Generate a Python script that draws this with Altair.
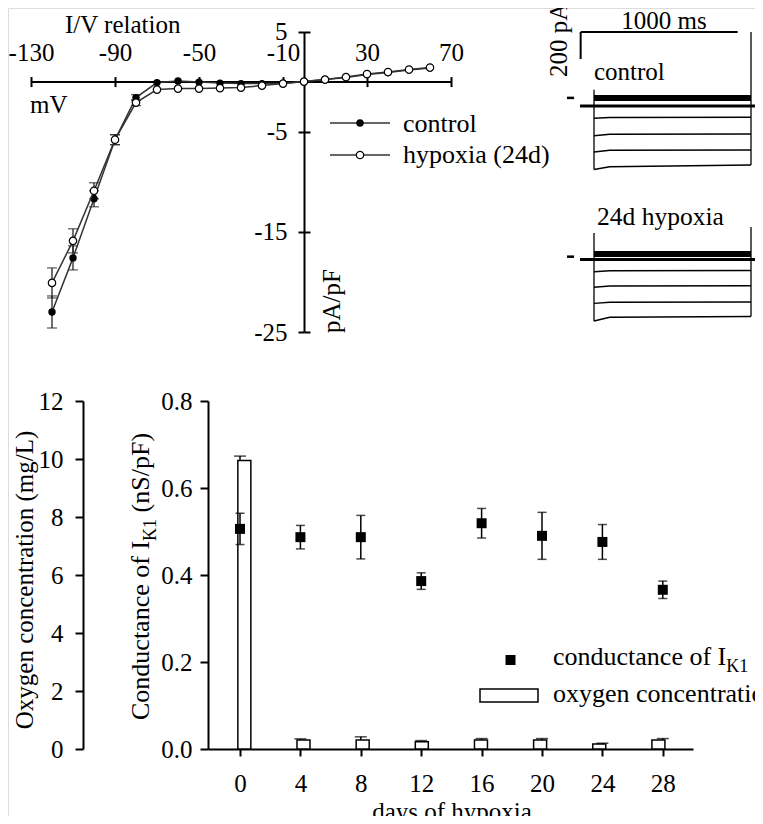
import altair as alt
import pandas as pd

FONT = "Liberation Serif"
W, H = 747, 808

# ---------------- Panel A: I/V relation ----------------
iv_mv = [-120, -110, -100, -90, -80, -70, -60, -50, -40, -30, -20, -10, 0, 10, 20, 30, 40, 50, 60]
iv_control = [-23.0, -17.6, -11.7, -5.8, -1.6, -0.1, 0.05, -0.05, -0.15, -0.2, -0.2, -0.2, 0.0, 0.2, 0.4, 0.7, 0.9, 1.15, 1.35]
iv_hypoxia = [-20.1, -15.9, -10.9, -5.8, -2.1, -0.8, -0.7, -0.7, -0.65, -0.6, -0.4, -0.2, 0.0, 0.2, 0.45, 0.75, 0.95, 1.2, 1.4]
iv_control_sem = [1.6, 1.2, 0.8, 0.5, 0.3, 0, 0, 0, 0, 0, 0, 0, 0, 0, 0, 0, 0, 0, 0]
iv_hypoxia_sem = [1.5, 1.2, 0.8, 0.5, 0.3, 0, 0, 0, 0, 0, 0, 0, 0, 0, 0, 0, 0, 0, 0]
iv_x_ticks = [-130, -90, -50, -10, 30, 70]
iv_y_ticks = [5, -5, -15, -25]

# ---------------- Panel B: current traces ----------------
trace_time_ms = [0, 100, 1000]
control_traces_pA = [[-90, -85, -84], [-220, -210, -208], [-340, -328, -326], [-470, -450, -437]]
hypoxia_traces_pA = [[-90, -83, -82], [-205, -197, -195], [-325, -317, -315], [-455, -428, -422]]
control_band_pA = 60
hypoxia_band_pA = 40
control_onset_peak_pA = 120
control_offset_peak_pA = 548
hypoxia_onset_peak_pA = 196
hypoxia_offset_peak_pA = 241
control_zero_mark_pA = 60
hypoxia_zero_mark_pA = 21
holding_span_ms = [-89, 1057]
zero_mark_span_ms = [-172, -127]
scalebar_time_ms = [-85, 915]
scalebar_current_pA = [348, 548]

# ---------------- Panel C: conductance & oxygen ----------------
days = [0, 4, 8, 12, 16, 20, 24, 28]
conductance = [0.506, 0.487, 0.487, 0.386, 0.519, 0.490, 0.476, 0.366]
conductance_sem = [0.036, 0.027, 0.05, 0.019, 0.034, 0.054, 0.04, 0.02]
oxygen = [9.95, 0.31, 0.31, 0.25, 0.31, 0.31, 0.17, 0.31]
oxygen_sem = [0.15, 0.04, 0.11, 0.04, 0.05, 0.05, 0.03, 0.05]
conductance_ticks = [0, 0.2, 0.4, 0.6, 0.8]
oxygen_ticks = [0, 2, 4, 6, 8, 10, 12]


def lin(domain, rng):
    return alt.Scale(domain=domain, range=rng, nice=False, zero=False)


IVX = lin([-130, 70], [23, 443])
IVY = lin([-25, 5], [324, 23.5])
IV_X0 = 23 + (0 - (-130)) / 200 * 420
IV_Y0 = 324 - (0 - (-25)) / 30 * (324 - 23.5)
TX = lin([0, 1000], [586, 743])
TYC = lin([-500, 500], [165.5, 30.5])
TYH = lin([-500, 500], [319, 184])
BX = lin([-2.12, 30], [200, 685])
BYG = lin([0, 0.8], [741, 393])
BYO = lin([0, 12], [741, 393])

AX = dict(labelFont=FONT, labelColor="black", domainColor="black", tickColor="black",
          grid=False, title=None, labelOverlap=False, labelFlush=False, labelAngle=0)

layers = []

# ---- IV panel ----
iv = pd.DataFrame({"mv": iv_mv, "ctrl": iv_control, "hyp": iv_hypoxia,
                   "cs": iv_control_sem, "hs": iv_hypoxia_sem})
err_rows = []
for _, r in iv.iterrows():
    if r.cs > 0:
        err_rows.append({"mv": r.mv, "lo": r.ctrl - r.cs, "hi": r.ctrl + r.cs})
    if r.hs > 0:
        err_rows.append({"mv": r.mv, "lo": r.hyp - r.hs, "hi": r.hyp + r.hs})
iv_err = pd.DataFrame(err_rows)

xn = alt.X("mv:Q", scale=IVX, axis=None)
layers.append(alt.Chart(iv_err).mark_rule(color="#222", strokeWidth=1.3).encode(
    x=xn, y=alt.Y("lo:Q", scale=IVY, axis=None), y2="hi:Q"))
for fld in ["lo", "hi"]:
    layers.append(alt.Chart(iv_err).mark_tick(orient="horizontal", size=10, thickness=1.3, color="#222").encode(
        x=xn, y=alt.Y(f"{fld}:Q", scale=IVY, axis=None)))

ax_top = alt.Axis(orient="top", offset=-IV_Y0, values=iv_x_ticks, labelExpr="toString(datum.value)",
                  tickSize=5, tickWidth=2, domainWidth=2, labelPadding=11, labelFontSize=25, **AX)
ax_left = alt.Axis(orient="left", offset=-IV_X0, values=iv_y_ticks, labelExpr="toString(datum.value)",
                   tickSize=6, tickWidth=2, domainWidth=2, labelPadding=11, labelFontSize=25, **AX)
ax_bot = alt.Axis(orient="bottom", offset=-(H - IV_Y0), values=iv_x_ticks, tickSize=5, tickWidth=2,
                  domain=False, labels=False, **AX)
ax_right = alt.Axis(orient="right", offset=-(W - IV_X0), values=iv_y_ticks, tickSize=6, tickWidth=2,
                    domain=False, labels=False, **AX)

layers.append(alt.Chart(iv).mark_line(color="#333", strokeWidth=1.5).encode(
    x=alt.X("mv:Q", scale=IVX, axis=ax_top), y=alt.Y("ctrl:Q", scale=IVY, axis=ax_left)))
layers.append(alt.Chart(iv).mark_circle(size=55, color="black", opacity=1).encode(
    x=xn, y=alt.Y("ctrl:Q", scale=IVY, axis=None)))
layers.append(alt.Chart(iv).mark_line(color="#333", strokeWidth=1.5).encode(
    x=alt.X("mv:Q", scale=IVX, axis=ax_bot), y=alt.Y("hyp:Q", scale=IVY, axis=ax_right)))
layers.append(alt.Chart(iv).mark_circle(size=55, fill="white", stroke="black", strokeWidth=1.2, opacity=1).encode(
    x=xn, y=alt.Y("hyp:Q", scale=IVY, axis=None)))

# ---- traces panel ----
def trace_layers(traces, band, on_peak, off_peak, zero_mark, ys):
    out = []
    rows = []
    for k, tr in enumerate(traces):
        for t, v in zip(trace_time_ms, tr):
            rows.append({"k": k, "t": t, "i": v})
    df = pd.DataFrame(rows)
    tx = alt.X("t:Q", scale=TX, axis=None)
    out.append(alt.Chart(df).mark_line(color="black", strokeWidth=1.5).encode(
        x=tx, y=alt.Y("i:Q", scale=ys, axis=None), detail="k:N"))
    hold = pd.DataFrame({"t": holding_span_ms, "i": [0, 0]})
    out.append(alt.Chart(hold).mark_line(color="black", strokeWidth=3).encode(
        x=tx, y=alt.Y("i:Q", scale=ys, axis=None)))
    bnd = pd.DataFrame({"t": [trace_time_ms[0], trace_time_ms[-1]], "i": [band, band]})
    out.append(alt.Chart(bnd).mark_line(color="black", strokeWidth=6).encode(
        x=tx, y=alt.Y("i:Q", scale=ys, axis=None)))
    edges = pd.DataFrame({"t": [trace_time_ms[0], trace_time_ms[-1]],
                          "lo": [min(tr[0] for tr in traces), min(tr[-1] for tr in traces)],
                          "hi": [on_peak, off_peak]})
    out.append(alt.Chart(edges).mark_rule(color="black", strokeWidth=1.3).encode(
        x=tx, y=alt.Y("lo:Q", scale=ys, axis=None), y2="hi:Q"))
    zm = pd.DataFrame({"t": zero_mark_span_ms, "i": [zero_mark, zero_mark]})
    out.append(alt.Chart(zm).mark_line(color="black", strokeWidth=2.5).encode(
        x=tx, y=alt.Y("i:Q", scale=ys, axis=None)))
    return out

layers += trace_layers(control_traces_pA, control_band_pA, control_onset_peak_pA,
                       control_offset_peak_pA, control_zero_mark_pA, TYC)
layers += trace_layers(hypoxia_traces_pA, hypoxia_band_pA, hypoxia_onset_peak_pA,
                       hypoxia_offset_peak_pA, hypoxia_zero_mark_pA, TYH)

sb_h = pd.DataFrame({"t": scalebar_time_ms, "i": [scalebar_current_pA[1]] * 2})
layers.append(alt.Chart(sb_h).mark_line(color="black", strokeWidth=2).encode(
    x=alt.X("t:Q", scale=TX, axis=None), y=alt.Y("i:Q", scale=TYC, axis=None)))
sb_v = pd.DataFrame({"t": [scalebar_time_ms[0]], "lo": [scalebar_current_pA[0]], "hi": [scalebar_current_pA[1]]})
layers.append(alt.Chart(sb_v).mark_rule(color="black", strokeWidth=2).encode(
    x=alt.X("t:Q", scale=TX, axis=None), y=alt.Y("lo:Q", scale=TYC, axis=None), y2="hi:Q"))

# ---- conductance / oxygen panel ----
bd = pd.DataFrame({"day": days, "g": conductance, "gs": conductance_sem, "o2": oxygen, "os": oxygen_sem})
bd["g_lo"] = bd.g - bd.gs
bd["g_hi"] = bd.g + bd.gs
bd["o_hi"] = bd.o2 + bd.os

ax_oxy = alt.Axis(orient="left", offset=-75, values=oxygen_ticks, tickSize=8, tickWidth=2, domainWidth=2,
                  labelPadding=12, labelFontSize=25, **AX)
ax_g = alt.Axis(orient="left", offset=-200, values=conductance_ticks, format=".1f", tickSize=8, tickWidth=2,
                domainWidth=2, labelPadding=8, labelFontSize=25, **AX)
ax_days = alt.Axis(orient="bottom", offset=-(H - 741), values=days, tickSize=7, tickWidth=2, domainWidth=2,
                   labelPadding=15, labelFontSize=25, **AX)

bxn = alt.X("day:Q", scale=BX, axis=None)
layers.append(alt.Chart(bd).mark_bar(orient="vertical", size=13, fill="white", stroke="black", strokeWidth=1.5).encode(
    x=bxn, y=alt.Y("o2:Q", scale=BYO, axis=ax_oxy), y2=alt.datum(0)))
layers.append(alt.Chart(bd).mark_rule(color="black", strokeWidth=1.5).encode(
    x=bxn, y=alt.Y("o2:Q", scale=BYO, axis=None), y2="o_hi:Q"))
layers.append(alt.Chart(bd).mark_tick(orient="horizontal", size=12, thickness=1.5, color="black").encode(
    x=bxn, y=alt.Y("o_hi:Q", scale=BYO, axis=None)))
layers.append(alt.Chart(bd).mark_rule(color="black", strokeWidth=1.5).encode(
    x=bxn, y=alt.Y("g_lo:Q", scale=BYG, axis=None), y2="g_hi:Q"))
for fld in ["g_lo", "g_hi"]:
    layers.append(alt.Chart(bd).mark_tick(orient="horizontal", size=9, thickness=1.5, color="black").encode(
        x=bxn, y=alt.Y(f"{fld}:Q", scale=BYG, axis=None)))
layers.append(alt.Chart(bd).mark_square(size=100, color="black", opacity=1).encode(
    x=alt.X("day:Q", scale=BX, axis=ax_days), y=alt.Y("g:Q", scale=BYG, axis=ax_g)))


# ---- text & legends ----
one = pd.DataFrame({"a": [0]})


def txt(s, x, y, size=25, angle=0, align="left", baseline="alphabetic"):
    return alt.Chart(pd.DataFrame({"s": [s]})).mark_text(
        font=FONT, fontSize=size, angle=angle, align=align, baseline=baseline, color="black"
    ).encode(x=alt.value(x), y=alt.value(y), text="s:N")


layers += [
    txt("I/V relation", 57, 25),
    txt("mV", 22, 105),
    txt("pA/pF", 332, 325, angle=270),
    txt("control", 395, 124, size=26),
    txt("hypoxia (24d)", 395, 155, size=26),
    txt("1000 ms", 656, 21, align="center"),
    txt("200 pA", 559, 69, angle=270),
    txt("control", 586, 72),
    txt("24d hypoxia", 589, 217, size=25.5),
    txt("Oxygen concentration (mg/L)", 25, 572, angle=270, align="center"),
    txt("Conductance of I", 141, 712, size=26, angle=270),
    txt("K1", 148, 532.9, size=18, angle=270),
    txt("(nS/pF)", 141, 504.4, size=26, angle=270),
    txt("conductance of I", 545, 657, size=26),
    txt("K1", 718.3, 664, size=18),
    txt("oxygen concentration", 545, 694, size=26),
    txt("days of hypoxia", 444, 812, align="center"),
]

for yy in [115, 147]:
    layers.append(alt.Chart(one).mark_rule(color="#333", strokeWidth=1.5).encode(
        x=alt.value(322), x2=alt.value(382), y=alt.value(yy)))
layers.append(alt.Chart(one).mark_circle(size=55, color="black", opacity=1).encode(
    x=alt.value(352), y=alt.value(115)))
layers.append(alt.Chart(one).mark_circle(size=55, fill="white", stroke="black", strokeWidth=1.2, opacity=1).encode(
    x=alt.value(352), y=alt.value(147)))
layers.append(alt.Chart(one).mark_square(size=100, color="black", opacity=1).encode(
    x=alt.value(502.5), y=alt.value(652)))
layers.append(alt.Chart(one).mark_rect(fill="white", stroke="black", strokeWidth=1.5).encode(
    x=alt.value(472), x2=alt.value(530), y=alt.value(681), y2=alt.value(694)))

chart = alt.layer(*layers).resolve_scale(x="independent", y="independent").properties(
    width=W, height=H, padding=0, autosize=alt.AutoSizeParams(type="none")
).configure_view(stroke="transparent").configure(background="white")

chart.save("out.html", embed_options={"renderer": "svg", "actions": False})
